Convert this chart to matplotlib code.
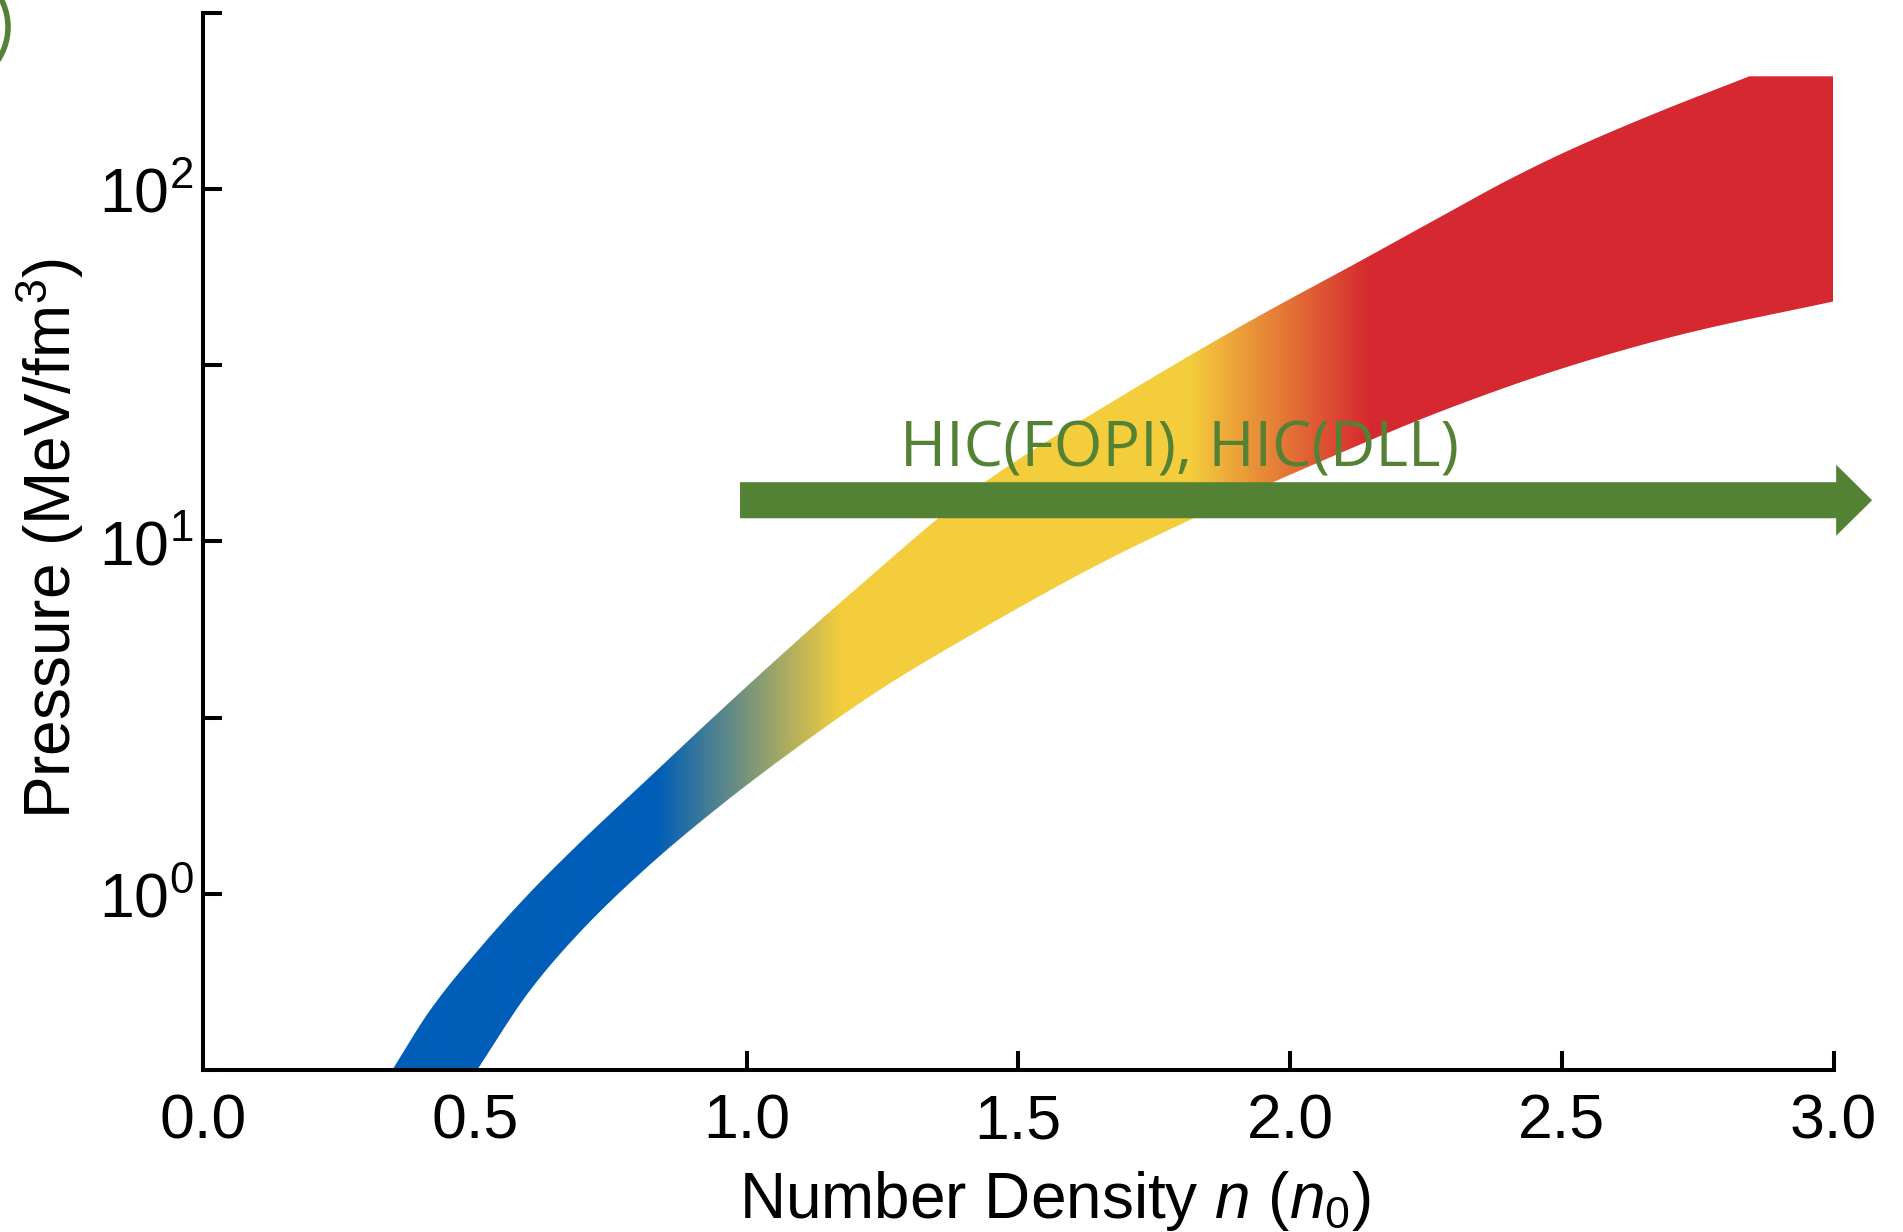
import numpy as np
import matplotlib.pyplot as plt
from matplotlib import font_manager
from matplotlib.colors import to_rgb
from matplotlib.patches import Polygon, FancyArrow, Circle
from matplotlib.ticker import FixedLocator, NullFormatter
from matplotlib.transforms import blended_transform_factory, IdentityTransform

# pressure band: upper / lower edge, number density (n0) vs pressure (MeV/fm^3)
upper_n = [0.348, 0.418, 0.510, 0.602, 0.694, 0.817, 0.938, 1.062, 1.190, 1.435,
           1.682, 1.926, 2.134, 2.287, 2.400, 2.513, 2.664, 2.845]
upper_p = [0.316, 0.468, 0.703, 1.01, 1.40, 2.11, 3.16, 4.73, 7.08, 14.6,
           25.4, 42.2, 63.1, 85.1, 105.9, 128.8, 162.2, 209.0]
upper_cap = 209.0    # upper edge is flat from n = 2.845 to 3.0
lower_n = [0.504, 0.602, 0.694, 0.817, 0.938, 1.062, 1.246, 1.408, 1.654, 1.818,
           2.050, 2.287, 2.513, 2.730, 3.0]
lower_p = [0.316, 0.533, 0.780, 1.19, 1.71, 2.40, 3.80, 5.37, 8.71, 11.55,
           16.7, 23.7, 31.4, 39.0, 48.0]
n_max = 3.0

# colour stops along n: blue -> yellow -> red
stop_n = [0.835, 1.172, 1.816, 2.147]
stop_colors = ['#005EB8', '#F4CD3C', '#F4CD3C', '#D62830']

# heavy-ion collision constraint, valid from n0 upward
hic_label = 'HIC(FOPI), HIC(DLL)'
hic_start = 0.988
hic_end = 3.071
hic_level = 0.539   # axes fraction

x_ticks = [0.0, 0.5, 1.0, 1.5, 2.0, 2.5, 3.0]
y_ticks = [1, 10, 100]
y_ticklabels = [r'$\mathdefault{10^{0}}$', r'$\mathdefault{10^{1}}$', r'$\mathdefault{10^{2}}$']
y_minor = [10 ** -0.5, 10 ** 0.5, 10 ** 1.5, 10 ** 2.5]

green = '#548235'


def pchip(xk, yk, x):
    """Monotone cubic through the read-off points (Fritsch-Carlson)."""
    xk = np.asarray(xk, float)
    yk = np.asarray(yk, float)
    h = np.diff(xk)
    d = np.diff(yk) / h
    m = np.zeros_like(yk)
    m[0], m[-1] = d[0], d[-1]
    for i in range(1, len(xk) - 1):
        if d[i - 1] * d[i] > 0:
            w1 = 2 * h[i] + h[i - 1]
            w2 = h[i] + 2 * h[i - 1]
            m[i] = (w1 + w2) / (w1 / d[i - 1] + w2 / d[i])
    idx = np.clip(np.searchsorted(xk, x) - 1, 0, len(h) - 1)
    t = (x - xk[idx]) / h[idx]
    h00 = 2 * t ** 3 - 3 * t ** 2 + 1
    h10 = t ** 3 - 2 * t ** 2 + t
    h01 = -2 * t ** 3 + 3 * t ** 2
    h11 = t ** 3 - t ** 2
    return (h00 * yk[idx] + h10 * h[idx] * m[idx]
            + h01 * yk[idx + 1] + h11 * h[idx] * m[idx + 1])


installed = {f.name for f in font_manager.fontManager.ttflist}
tick_font = 'Liberation Sans Narrow' if 'Liberation Sans Narrow' in installed else 'Liberation Sans'

plt.rcParams['font.family'] = 'Liberation Sans'
plt.rcParams['mathtext.fontset'] = 'custom'
plt.rcParams['mathtext.rm'] = 'Liberation Sans'
plt.rcParams['mathtext.it'] = 'Liberation Sans:italic'

fig = plt.figure(figsize=(19.03, 12.32), dpi=100)
ax = fig.add_axes([0.1067, 0.1315, 0.8568, 0.8580])
ax.set_yscale('log')

ylo, yhi = 10 ** -0.5, 10 ** 2.5

# smooth band outline (interpolated in log pressure), flat cap on the upper edge
un = np.linspace(upper_n[0], upper_n[-1], 400)
up = 10 ** pchip(upper_n, np.log10(upper_p), un)
un = np.append(un, n_max)
up = np.append(up, upper_cap)
ln = np.linspace(lower_n[0], lower_n[-1], 400)
lp = 10 ** pchip(lower_n, np.log10(lower_p), ln)
verts = list(zip(un, up)) + list(zip(ln[::-1], lp[::-1]))

# horizontal colour gradient, clipped to the band outline
xs = np.linspace(0, 3, 1500)
rgb = np.array([to_rgb(c) for c in stop_colors])
grad = np.stack([np.interp(xs, stop_n, rgb[:, i]) for i in range(3)], axis=-1)[None, :, :]
im = ax.imshow(grad, extent=(0, 3, ylo, yhi), aspect='auto', origin='lower',
               interpolation='bilinear', zorder=1)
band = Polygon(verts, closed=True, transform=ax.transData, facecolor='none', edgecolor='none')
im.set_clip_path(band)

ax.set_xlim(0, 3)
ax.set_ylim(ylo, yhi)

# HIC arrow and its label
trans = blended_transform_factory(ax.transData, ax.transAxes)
arrow = FancyArrow(hic_start, hic_level, hic_end - hic_start, 0, width=0.0341,
                   head_width=0.0672, head_length=0.0662, length_includes_head=True,
                   color=green, transform=trans, clip_on=False, zorder=3, linewidth=0)
ax.add_patch(arrow)
ax.text(1.282, 0.5705, hic_label, transform=trans, fontsize=45, family='Open Sans',
        color=green, ha='left', va='baseline', zorder=4)

# axes styling
for side in ['top', 'right']:
    ax.spines[side].set_visible(False)
for side in ['left', 'bottom']:
    ax.spines[side].set_linewidth(2.9)
ax.set_axisbelow(True)

ax.set_xticks(x_ticks)
ax.set_xticklabels([f'{v:.1f}' for v in x_ticks])
ax.set_yticks(y_ticks)
ax.set_yticklabels(y_ticklabels)
ax.yaxis.set_minor_locator(FixedLocator(y_minor))
ax.yaxis.set_minor_formatter(NullFormatter())
ax.tick_params(which='both', direction='in', length=14, width=2.9, labelsize=45)
ax.tick_params(axis='x', pad=16)
ax.tick_params(axis='y', pad=7)
plt.setp(ax.get_xticklabels() + ax.get_yticklabels(), fontfamily=tick_font)

ax.set_xlabel(r'Number Density $n$ ($n_{\mathdefault{0}}$)', fontsize=46)
ax.set_ylabel(r'Pressure (MeV/fm$^{\mathdefault{3}}$)', fontsize=46)
ax.xaxis.set_label_coords(0.5225, -0.094)
ax.yaxis.set_label_coords(-0.072, 0.503)

# panel marker ring at the top-left corner
fig.add_artist(Circle((-52, 1205), 60, transform=IdentityTransform(), fill=False,
                      edgecolor=green, linewidth=4))

fig.savefig('out.png', dpi=100)
